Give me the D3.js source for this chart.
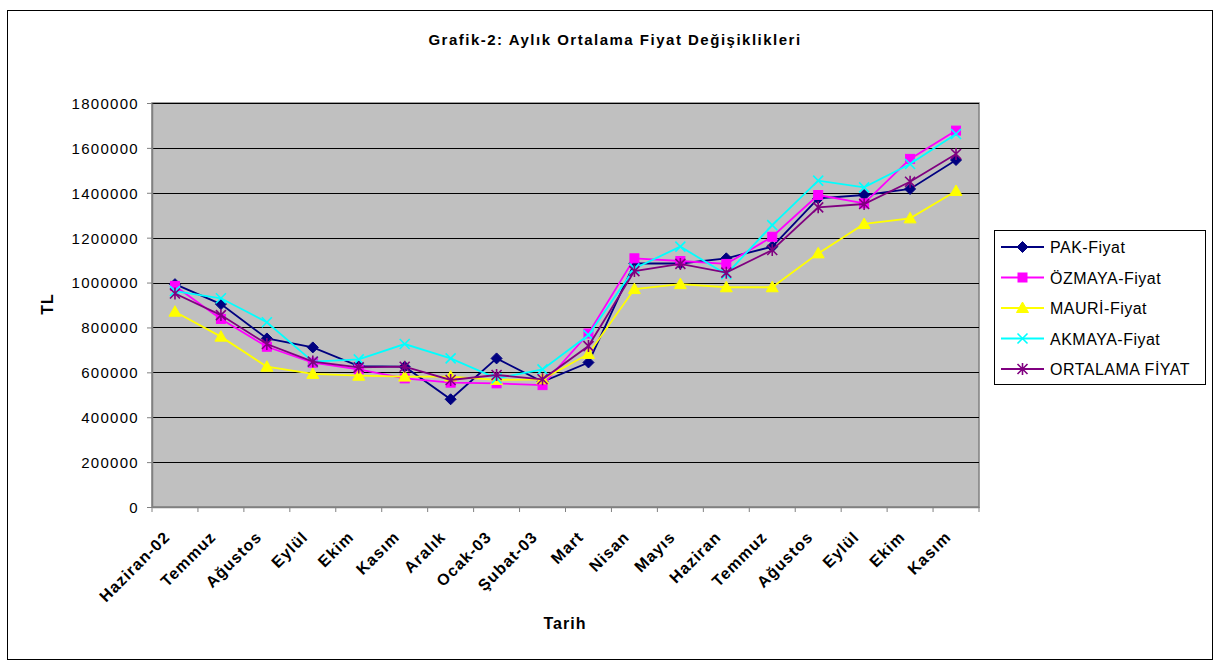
<!DOCTYPE html>
<html>
<head>
<meta charset="utf-8">
<script src="https://cdn.jsdelivr.net/npm/d3@7"></script>
<style>
  body { margin: 0; background: #fff; }
  svg { font-family: "Liberation Sans", Arial, sans-serif; }
</style>
</head>
<body>
<svg id="chart" width="1222" height="667"></svg>
<script>
//data
const months = ["Haziran-02", "Temmuz", "Ağustos", "Eylül", "Ekim", "Kasım", "Aralık", "Ocak-03", "Şubat-03",
  "Mart", "Nisan", "Mayıs", "Haziran", "Temmuz ", "Ağustos ", "Eylül ", "Ekim ", "Kasım "];
const pak = [993000, 904000, 751000, 711000, 628000, 625000, 480000, 662000, 558000,
  644000, 1085000, 1085000, 1108000, 1160000, 1375000, 1390000, 1417000, 1546000];
const ozmaya = [985000, 838000, 714000, 643000, 613000, 573000, 554000, 551000, 543000,
  773000, 1108000, 1096000, 1083000, 1204000, 1390000, 1353000, 1551000, 1677000];
const mauri = [870000, 759000, 625000, 593000, 585000, 581000, 581000, 566000, 569000,
  682000, 971000, 993000, 979000, 979000, 1130000, 1261000, 1286000, 1408000];
const akmaya = [962000, 930000, 823000, 648000, 658000, 726000, 662000, 573000, 613000,
  766000, 1063000, 1160000, 1037000, 1256000, 1454000, 1424000, 1528000, 1662000];
const ortalama = [951000, 855000, 726000, 648000, 622000, 625000, 566000, 588000, 569000,
  717000, 1051000, 1083000, 1044000, 1145000, 1335000, 1350000, 1449000, 1573000];
const yTicks = [0, 200000, 400000, 600000, 800000, 1000000, 1200000, 1400000, 1600000, 1800000];

const series = [
  {name: "PAK-Fiyat", values: pak, color: "#000080", marker: "diamond"},
  {name: "ÖZMAYA-Fiyat", values: ozmaya, color: "#ff00ff", marker: "square"},
  {name: "MAURİ-Fiyat", values: mauri, color: "#ffff00", marker: "triangle"},
  {name: "AKMAYA-Fiyat", values: akmaya, color: "#00ffff", marker: "x"},
  {name: "ORTALAMA FİYAT", values: ortalama, color: "#800080", marker: "star"}
];

let svg = d3.select("#chart");
let plot = {left: 152, top: 103, right: 979, bottom: 507};

//outer frame
svg.append("rect")
  .attr("x", 7.5).attr("y", 10.5)
  .attr("width", 1205).attr("height", 649)
  .attr("fill", "#fff").attr("stroke", "#000").attr("stroke-width", 1);

//scales
let x = d3.scaleBand().domain(months).range([plot.left, plot.right]);
let y = d3.scaleLinear().domain([0, 1800000]).range([plot.bottom, plot.top]);

//plot area
svg.append("rect")
  .attr("x", plot.left).attr("y", plot.top)
  .attr("width", plot.right - plot.left).attr("height", plot.bottom - plot.top)
  .attr("fill", "#c0c0c0").attr("stroke", "#808080").attr("stroke-width", 1.5);

//grid
svg.append("g").selectAll("line")
  .data(yTicks.filter(d => d > 0))
  .enter().append("line")
  .attr("x1", plot.left).attr("x2", plot.right)
  .attr("y1", d => Math.round(y(d)) + 0.5).attr("y2", d => Math.round(y(d)) + 0.5)
  .attr("stroke", "#000").attr("stroke-width", 1);

//y axis
let yAxis = svg.append("g")
  .attr("transform", "translate(" + plot.left + ",0)")
  .call(d3.axisLeft(y).tickValues(yTicks).tickFormat(d3.format("d")).tickSize(5).tickSizeOuter(0));
yAxis.select(".domain").attr("stroke", "#808080").attr("stroke-width", 1.5);
yAxis.selectAll(".tick line").attr("stroke", "#808080");
yAxis.selectAll("text")
  .style("font-size", "15px")
  .style("letter-spacing", "1.3px")
  .attr("fill", "#000")
  .attr("x", -13)
  .attr("dy", "0.36em");

//x axis
let xAxis = svg.append("g")
  .attr("transform", "translate(0," + plot.bottom + ")")
  .call(d3.axisBottom(x).tickSize(0).tickSizeOuter(0));
xAxis.select(".domain").attr("stroke", "#808080").attr("stroke-width", 1.5);
xAxis.selectAll(".tick line").remove();
xAxis.selectAll("text")
  .text(d => d.trim())
  .style("font-size", "16px")
  .style("font-weight", "bold")
  .style("letter-spacing", "1.1px")
  .attr("fill", "#000")
  .attr("text-anchor", "end")
  .attr("x", 0).attr("y", 0).attr("dy", 0)
  .attr("transform", "translate(-4,31) rotate(-45)");

//tick marks between categories
svg.append("g").selectAll("line")
  .data(months.concat(["end"]))
  .enter().append("line")
  .attr("x1", (d, i) => plot.left + i * x.bandwidth())
  .attr("x2", (d, i) => plot.left + i * x.bandwidth())
  .attr("y1", plot.bottom).attr("y2", plot.bottom + 5)
  .attr("stroke", "#808080").attr("stroke-width", 1);

//titles
svg.append("text")
  .attr("x", 615).attr("y", 45)
  .attr("text-anchor", "middle")
  .style("font-size", "15px").style("font-weight", "bold")
  .style("letter-spacing", "1.5px")
  .text("Grafik-2: Aylık Ortalama Fiyat Değişiklikleri");

svg.append("text")
  .attr("transform", "translate(53,304) rotate(-90)")
  .attr("text-anchor", "middle")
  .style("font-size", "16px").style("font-weight", "bold")
  .style("letter-spacing", "1px")
  .text("TL");

svg.append("text")
  .attr("x", 565).attr("y", 629)
  .attr("text-anchor", "middle")
  .style("font-size", "16px").style("font-weight", "bold")
  .style("letter-spacing", "1px")
  .text("Tarih");

//markers
function drawMarker(g, type, color, cx, cy) {
  if (type === "diamond") {
    g.append("path").attr("d", "M" + cx + "," + (cy - 5.5) + "L" + (cx + 5.5) + "," + cy + "L" + cx + "," + (cy + 5.5) + "L" + (cx - 5.5) + "," + cy + "Z")
      .attr("fill", color).attr("stroke", color);
  } else if (type === "square") {
    g.append("rect").attr("x", cx - 4.5).attr("y", cy - 4.5).attr("width", 9).attr("height", 9)
      .attr("fill", color).attr("stroke", color);
  } else if (type === "triangle") {
    g.append("path").attr("d", "M" + cx + "," + (cy - 6) + "L" + (cx + 6) + "," + (cy + 4.5) + "L" + (cx - 6) + "," + (cy + 4.5) + "Z")
      .attr("fill", color).attr("stroke", color);
  } else if (type === "x") {
    g.append("path").attr("d", "M" + (cx - 5) + "," + (cy - 5) + "L" + (cx + 5) + "," + (cy + 5) + "M" + (cx + 5) + "," + (cy - 5) + "L" + (cx - 5) + "," + (cy + 5))
      .attr("stroke", color).attr("stroke-width", 1.6).attr("fill", "none");
  } else {
    g.append("path").attr("d", "M" + (cx - 5) + "," + (cy - 5) + "L" + (cx + 5) + "," + (cy + 5) + "M" + (cx + 5) + "," + (cy - 5) + "L" + (cx - 5) + "," + (cy + 5) + "M" + cx + "," + (cy - 6) + "L" + cx + "," + (cy + 6))
      .attr("stroke", color).attr("stroke-width", 1.6).attr("fill", "none");
  }
}

//lines
let line = d3.line()
  .x((d, i) => x(months[i]) + x.bandwidth() / 2)
  .y(d => y(d));

series.forEach(function(s) {
  let g = svg.append("g");
  g.append("path")
    .datum(s.values)
    .attr("d", line)
    .attr("fill", "none")
    .attr("stroke", s.color)
    .attr("stroke-width", 1.8);
  s.values.forEach(function(v, i) {
    drawMarker(g, s.marker, s.color, x(months[i]) + x.bandwidth() / 2, y(v));
  });
});

//legend
let legend = svg.append("g");
legend.append("rect")
  .attr("x", 994.5).attr("y", 230.5)
  .attr("width", 211).attr("height", 154)
  .attr("fill", "#fff").attr("stroke", "#000");

series.forEach(function(s, i) {
  let ly = 247 + i * 30.5;
  let g = legend.append("g");
  g.append("line")
    .attr("x1", 1001).attr("x2", 1044)
    .attr("y1", ly).attr("y2", ly)
    .attr("stroke", s.color).attr("stroke-width", 1.8);
  drawMarker(g, s.marker, s.color, 1022.5, ly);
  g.append("text")
    .attr("x", 1050).attr("y", ly + 6)
    .style("font-size", "16px")
    .style("letter-spacing", "0.5px")
    .text(s.name);
});
</script>
</body>
</html>
